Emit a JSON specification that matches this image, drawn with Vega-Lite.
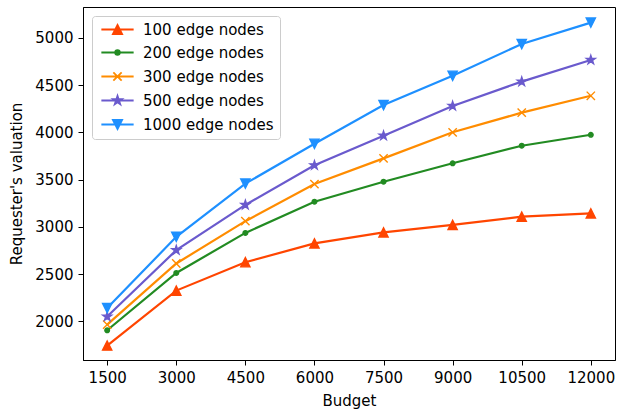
{
  "$schema": "https://vega.github.io/schema/vega-lite/v6.json",
  "width": 532,
  "height": 353,
  "autosize": {"type": "none"},
  "padding": {"left": 83, "top": 7, "right": 2, "bottom": 54},
  "background": "white",
  "config": {
    "font": "DejaVu Sans",
    "view": {"stroke": "black", "strokeWidth": 1},
    "axis": {
      "grid": false,
      "domainColor": "black",
      "tickColor": "black",
      "tickSize": 5,
      "labelFontSize": 15,
      "labelColor": "black",
      "titleFontSize": 15,
      "titleFontWeight": "normal",
      "titleColor": "black",
      "labelFont": "DejaVu Sans",
      "titleFont": "DejaVu Sans"
    },
    "legend": {
      "orient": "top-left",
      "offset": 9,
      "padding": 6,
      "strokeColor": "#cccccc",
      "fillColor": "white",
      "cornerRadius": 3,
      "labelFontSize": 15,
      "labelColor": "black",
      "labelFont": "DejaVu Sans",
      "symbolSize": 85,
      "symbolOpacity": 1,
      "symbolStrokeWidth": 1.8,
      "symbolOffset": 12,
      "labelOffset": 18,
      "rowPadding": 7
    }
  },
  "data": {
    "values": [
      {"budget": 1500, "valuation": 1743, "series": "100 edge nodes"},
      {"budget": 3000, "valuation": 2325, "series": "100 edge nodes"},
      {"budget": 4500, "valuation": 2625, "series": "100 edge nodes"},
      {"budget": 6000, "valuation": 2825, "series": "100 edge nodes"},
      {"budget": 7500, "valuation": 2942, "series": "100 edge nodes"},
      {"budget": 9000, "valuation": 3020, "series": "100 edge nodes"},
      {"budget": 10500, "valuation": 3108, "series": "100 edge nodes"},
      {"budget": 12000, "valuation": 3143, "series": "100 edge nodes"},
      {"budget": 1500, "valuation": 1905, "series": "200 edge nodes"},
      {"budget": 3000, "valuation": 2512, "series": "200 edge nodes"},
      {"budget": 4500, "valuation": 2936, "series": "200 edge nodes"},
      {"budget": 6000, "valuation": 3266, "series": "200 edge nodes"},
      {"budget": 7500, "valuation": 3478, "series": "200 edge nodes"},
      {"budget": 9000, "valuation": 3673, "series": "200 edge nodes"},
      {"budget": 10500, "valuation": 3859, "series": "200 edge nodes"},
      {"budget": 12000, "valuation": 3975, "series": "200 edge nodes"},
      {"budget": 1500, "valuation": 1964, "series": "300 edge nodes"},
      {"budget": 3000, "valuation": 2612, "series": "300 edge nodes"},
      {"budget": 4500, "valuation": 3060, "series": "300 edge nodes"},
      {"budget": 6000, "valuation": 3453, "series": "300 edge nodes"},
      {"budget": 7500, "valuation": 3725, "series": "300 edge nodes"},
      {"budget": 9000, "valuation": 4001, "series": "300 edge nodes"},
      {"budget": 10500, "valuation": 4209, "series": "300 edge nodes"},
      {"budget": 12000, "valuation": 4388, "series": "300 edge nodes"},
      {"budget": 1500, "valuation": 2050, "series": "500 edge nodes"},
      {"budget": 3000, "valuation": 2753, "series": "500 edge nodes"},
      {"budget": 4500, "valuation": 3232, "series": "500 edge nodes"},
      {"budget": 6000, "valuation": 3652, "series": "500 edge nodes"},
      {"budget": 7500, "valuation": 3965, "series": "500 edge nodes"},
      {"budget": 9000, "valuation": 4280, "series": "500 edge nodes"},
      {"budget": 10500, "valuation": 4538, "series": "500 edge nodes"},
      {"budget": 12000, "valuation": 4767, "series": "500 edge nodes"},
      {"budget": 1500, "valuation": 2140, "series": "1000 edge nodes"},
      {"budget": 3000, "valuation": 2894, "series": "1000 edge nodes"},
      {"budget": 4500, "valuation": 3458, "series": "1000 edge nodes"},
      {"budget": 6000, "valuation": 3880, "series": "1000 edge nodes"},
      {"budget": 7500, "valuation": 4290, "series": "1000 edge nodes"},
      {"budget": 9000, "valuation": 4600, "series": "1000 edge nodes"},
      {"budget": 10500, "valuation": 4936, "series": "1000 edge nodes"},
      {"budget": 12000, "valuation": 5163, "series": "1000 edge nodes"}
    ]
  },
  "encoding": {
    "x": {
      "field": "budget",
      "type": "quantitative",
      "title": "Budget",
      "scale": {"domain": [975, 12525], "nice": false, "zero": false},
      "axis": {"values": [1500, 3000, 4500, 6000, 7500, 9000, 10500, 12000], "format": "d", "labelPadding": 5, "titlePadding": 8}
    },
    "y": {
      "field": "valuation",
      "type": "quantitative",
      "title": "Requester's valuation",
      "scale": {"domain": [1590, 5328], "nice": false, "zero": false},
      "axis": {"values": [2000, 2500, 3000, 3500, 4000, 4500, 5000], "format": "d", "labelPadding": 5, "titlePadding": 10}
    },
    "color": {
      "field": "series",
      "type": "nominal",
      "scale": {
        "domain": ["100 edge nodes", "200 edge nodes", "300 edge nodes", "500 edge nodes", "1000 edge nodes"],
        "range": ["#FF4500", "#228B22", "#FF8C00", "#6A5ACD", "#1E90FF"]
      },
      "legend": {"title": null}
    }
  },
  "layer": [
    {
      "mark": {"type": "line", "strokeWidth": 2.2},
      "encoding": {}
    },
    {
      "transform": [{"filter": "datum.series == '100 edge nodes'"}],
      "mark": {"type": "point", "filled": true, "size": 85, "strokeWidth": 1.4, "opacity": 1, "shape": "M0,-1L1,1L-1,1Z", "stroke": "#FF4500"}
    },
    {
      "transform": [{"filter": "datum.series == '200 edge nodes'"}],
      "mark": {"type": "point", "filled": true, "size": 85, "strokeWidth": 1.4, "opacity": 1, "shape": "M-0.5,0A0.5,0.5 0 1,0 0.5,0A0.5,0.5 0 1,0 -0.5,0Z", "stroke": "#228B22"}
    },
    {
      "transform": [{"filter": "datum.series == '300 edge nodes'"}],
      "mark": {"type": "point", "filled": true, "size": 85, "strokeWidth": 1.4, "opacity": 1, "shape": "M-0.9,-0.9L0.9,0.9M0.9,-0.9L-0.9,0.9", "stroke": "#FF8C00"}
    },
    {
      "transform": [{"filter": "datum.series == '500 edge nodes'"}],
      "mark": {"type": "point", "filled": true, "size": 85, "strokeWidth": 1.4, "opacity": 1, "shape": "M0,-1L0.225,-0.309L0.951,-0.309L0.363,0.118L0.588,0.809L0,0.382L-0.588,0.809L-0.363,0.118L-0.951,-0.309L-0.225,-0.309Z", "stroke": "#6A5ACD"}
    },
    {
      "transform": [{"filter": "datum.series == '1000 edge nodes'"}],
      "mark": {"type": "point", "filled": true, "size": 85, "strokeWidth": 1.4, "opacity": 1, "shape": "M0,1L1,-1L-1,-1Z", "stroke": "#1E90FF"}
    },
    {
      "mark": {"type": "point", "filled": true, "size": 85, "strokeWidth": 1.8},
      "encoding": {
        "opacity": {"value": 0},
        "stroke": {"field": "series", "type": "nominal", "scale": {"domain": ["100 edge nodes", "200 edge nodes", "300 edge nodes", "500 edge nodes", "1000 edge nodes"], "range": ["#FF4500", "#228B22", "#FF8C00", "#6A5ACD", "#1E90FF"]}, "legend": {"title": null}},
        "shape": {
          "field": "series",
          "type": "nominal",
          "legend": {"title": null},
          "scale": {
            "domain": ["100 edge nodes", "200 edge nodes", "300 edge nodes", "500 edge nodes", "1000 edge nodes"],
            "range": [
              "M-3.5,0H3.5M0,-1L1,1L-1,1Z",
              "M-3.5,0H3.5M-0.5,0A0.5,0.5 0 1,0 0.5,0A0.5,0.5 0 1,0 -0.5,0Z",
              "M-3.5,0H3.5M-0.9,-0.9L0.9,0.9M0.9,-0.9L-0.9,0.9",
              "M-3.5,0H3.5M0,-1L0.225,-0.309L0.951,-0.309L0.363,0.118L0.588,0.809L0,0.382L-0.588,0.809L-0.363,0.118L-0.951,-0.309L-0.225,-0.309Z",
              "M-3.5,0H3.5M0,1L1,-1L-1,-1Z"
            ]
          }
        }
      }
    }
  ]
}
